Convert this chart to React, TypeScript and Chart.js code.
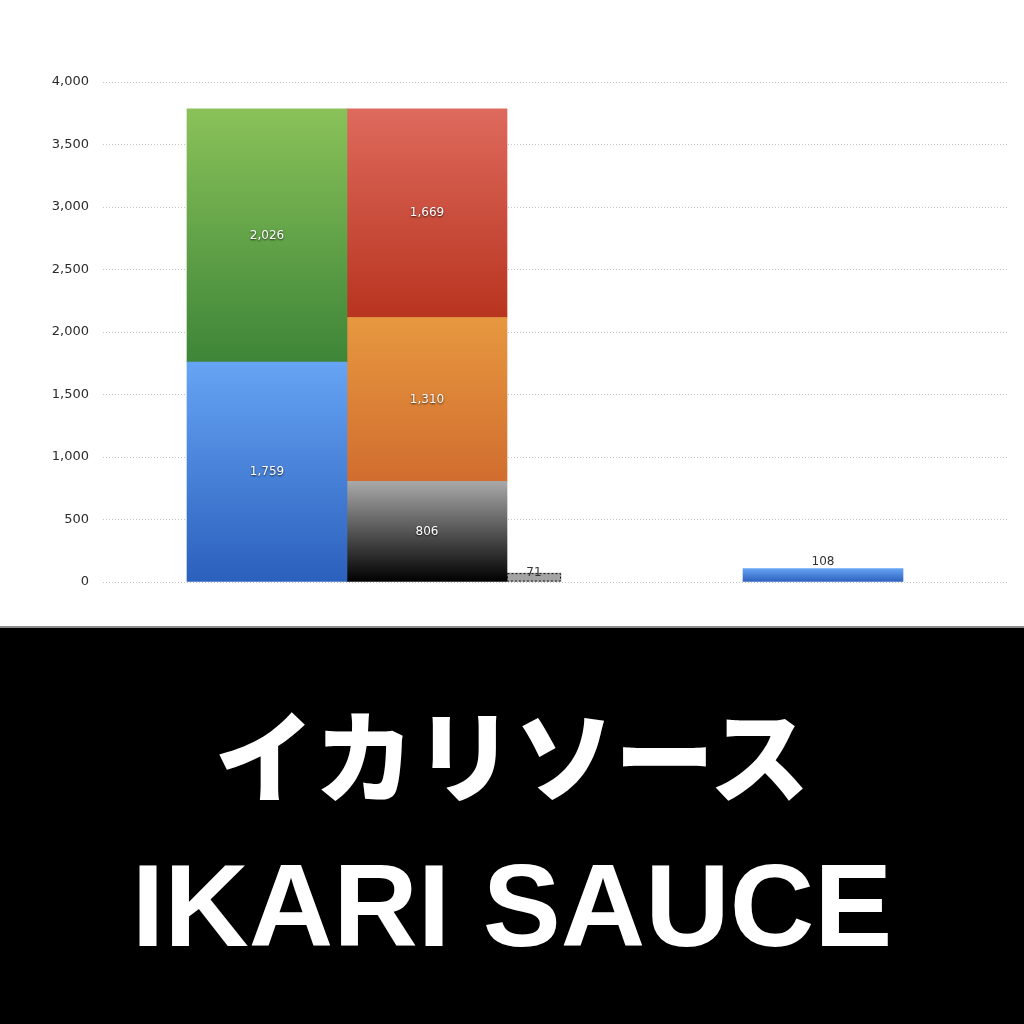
import React, { useEffect, useRef } from 'react';
import { Chart, registerables, Plugin } from 'chart.js';

Chart.register(...registerables);

// columns left to right
const columns = ['col1', 'col2', 'col3', 'col4'];
const blueValues = [1759, null, null, 108];
const greenValues = [2026, null, null, null];
const grayValues = [null, 806, null, null];
const orangeValues = [null, 1310, null, null];
const redValues = [null, 1669, null, null];
const otherValues = [null, null, 71, null];
const yTicks = [0, 500, 1000, 1500, 2000, 2500, 3000, 3500, 4000];

// layout (x scale units are px inside the plot area)
const COLUMN_X = [164, 324, 431, 720];
const X_RANGE = 904;

type Series = {
  label: string;
  values: (number | null)[];
  top: string;
  bottom: string;
  width: number;
  labelPos: 'inside' | 'edge';
  dashed?: boolean;
};

const series: Series[] = [
  { label: 'blue', values: blueValues, top: '#66a4f4', bottom: '#2b60bd', width: 160, labelPos: 'inside' },
  { label: 'gray', values: grayValues, top: '#a9a9a9', bottom: '#000000', width: 160, labelPos: 'inside' },
  { label: 'green', values: greenValues, top: '#8ac259', bottom: '#3d8538', width: 160, labelPos: 'inside' },
  { label: 'orange', values: orangeValues, top: '#e7983f', bottom: '#d16d2f', width: 160, labelPos: 'inside' },
  { label: 'red', values: redValues, top: '#de6a5d', bottom: '#b8341f', width: 160, labelPos: 'inside' },
  { label: 'other', values: otherValues, top: '#a3a3a3', bottom: '#a3a3a3', width: 54, labelPos: 'edge', dashed: true },
];

const fmt = (v: number) => v.toLocaleString('en-US');

const baseAt = (seriesIndex: number, col: number) => {
  let sum = 0;
  for (let s = 0; s < seriesIndex; s++) sum += series[s].values[col] ?? 0;
  return sum;
};

const labelPlugin: Plugin = {
  id: 'barLabels',
  afterDatasetsDraw(chart) {
    const ctx = chart.ctx;
    chart.data.datasets.forEach((ds: any, di) => {
      const meta = chart.getDatasetMeta(di);
      const s = series[di];
      meta.data.forEach((el: any, i) => {
        const raw: any = ds.data[i];
        if (s.dashed) {
          ctx.save();
          ctx.setLineDash([2, 2]);
          ctx.strokeStyle = '#111';
          ctx.lineWidth = 1;
          ctx.strokeRect(el.x - el.width / 2 + 0.5, el.y + 0.5, el.width - 1, el.base - el.y - 1);
          ctx.restore();
        }
        ctx.save();
        ctx.font = '12px "DejaVu Sans"';
        ctx.textAlign = 'center';
        const h = el.base - el.y;
        if (s.labelPos === 'inside' && h > 24) {
          ctx.textBaseline = 'middle';
          ctx.fillStyle = '#ffffff';
          ctx.shadowColor = 'rgba(0,0,0,0.75)';
          ctx.shadowBlur = 2;
          ctx.shadowOffsetY = 1;
          ctx.fillText(fmt(raw.y), el.x, (el.y + el.base) / 2);
        } else if (s.labelPos === 'edge') {
          ctx.textBaseline = 'middle';
          ctx.fillStyle = '#333';
          ctx.fillText(fmt(raw.y), el.x, el.y);
        } else {
          ctx.textBaseline = 'bottom';
          ctx.fillStyle = '#333';
          ctx.fillText(fmt(raw.y), el.x, el.y - 1);
        }
        ctx.restore();
      });
    });
  },
};

const BarChart: React.FC = () => {
  const canvasRef = useRef<HTMLCanvasElement>(null);

  useEffect(() => {
    if (!canvasRef.current) return;
    const datasets = series.map((s, si) => ({
      label: s.label,
      stack: 's',
      barThickness: s.width,
      borderWidth: 0,
      data: columns
        .map((_, col) => ({ x: COLUMN_X[col], y: s.values[col], col }))
        .filter((p) => p.y !== null),
      backgroundColor: (c: any) => {
        const chart = c.chart;
        if (!chart.chartArea || !c.raw) return s.top;
        const y = chart.scales.y;
        const lo = baseAt(si, c.raw.col);
        const hi = lo + c.raw.y;
        const g = chart.ctx.createLinearGradient(0, y.getPixelForValue(hi), 0, y.getPixelForValue(lo));
        g.addColorStop(0, s.top);
        g.addColorStop(1, s.bottom);
        return g;
      },
    }));

    const chart = new Chart(canvasRef.current, {
      type: 'bar',
      data: { datasets } as any,
      plugins: [labelPlugin],
      options: {
        animation: false,
        responsive: true,
        maintainAspectRatio: false,
        layout: { padding: { top: 82, right: 17, bottom: 44, left: 0 } },
        plugins: { legend: { display: false }, tooltip: { enabled: false } },
        scales: {
          x: { type: 'linear', min: 0, max: X_RANGE, offset: false, display: false },
          y: {
            stacked: true,
            min: 0,
            max: 4000,
            afterFit: (scale: any) => {
              scale.width = 103;
            },
            afterBuildTicks: (scale: any) => {
              scale.ticks = yTicks.map((v) => ({ value: v }));
            },
            ticks: {
              padding: 14,
              color: '#2b2b2b',
              font: { family: '"DejaVu Sans"', size: 13 },
              callback: (v: any) => fmt(Number(v)),
            },
            grid: { color: '#c4c4c4', lineWidth: 1, drawTicks: false },
            border: { display: false, dash: [1, 2] },
          },
        },
      } as any,
    });

    return () => chart.destroy();
  }, []);

  return (
    <div style={{ position: 'relative', width: 1024, height: 626 }}>
      <canvas ref={canvasRef}></canvas>
    </div>
  );
};

export default function App() {
  return (
    <div
      style={{
        position: 'absolute',
        top: 0,
        left: 0,
        width: 1024,
        height: 1024,
        background: '#fff',
        overflow: 'hidden',
      }}
    >
      <BarChart />
      <div
        style={{
          position: 'absolute',
          top: 626,
          left: 0,
          width: 1024,
          height: 398,
          background: '#000',
          borderTop: '2px solid #8c8c8c',
          boxSizing: 'border-box',
        }}
      >
        <div
          style={{
            position: 'absolute',
            top: 700 - 626,
            left: 0,
            width: 1024,
            textAlign: 'center',
            color: '#fff',
            fontFamily: '"Noto Sans CJK JP", sans-serif',
            fontWeight: 900,
            fontSize: 100,
            lineHeight: 1,
            whiteSpace: 'nowrap',
          }}
        >
          イカリソース
        </div>
        <div
          style={{
            position: 'absolute',
            top: 845 - 626,
            left: 0,
            width: 1024,
            textAlign: 'center',
            color: '#fff',
            fontFamily: '"Liberation Sans", Arial, sans-serif',
            fontWeight: 700,
            fontSize: 117,
            lineHeight: 1,
            whiteSpace: 'nowrap',
          }}
        >
          IKARI SAUCE
        </div>
      </div>
    </div>
  );
}
